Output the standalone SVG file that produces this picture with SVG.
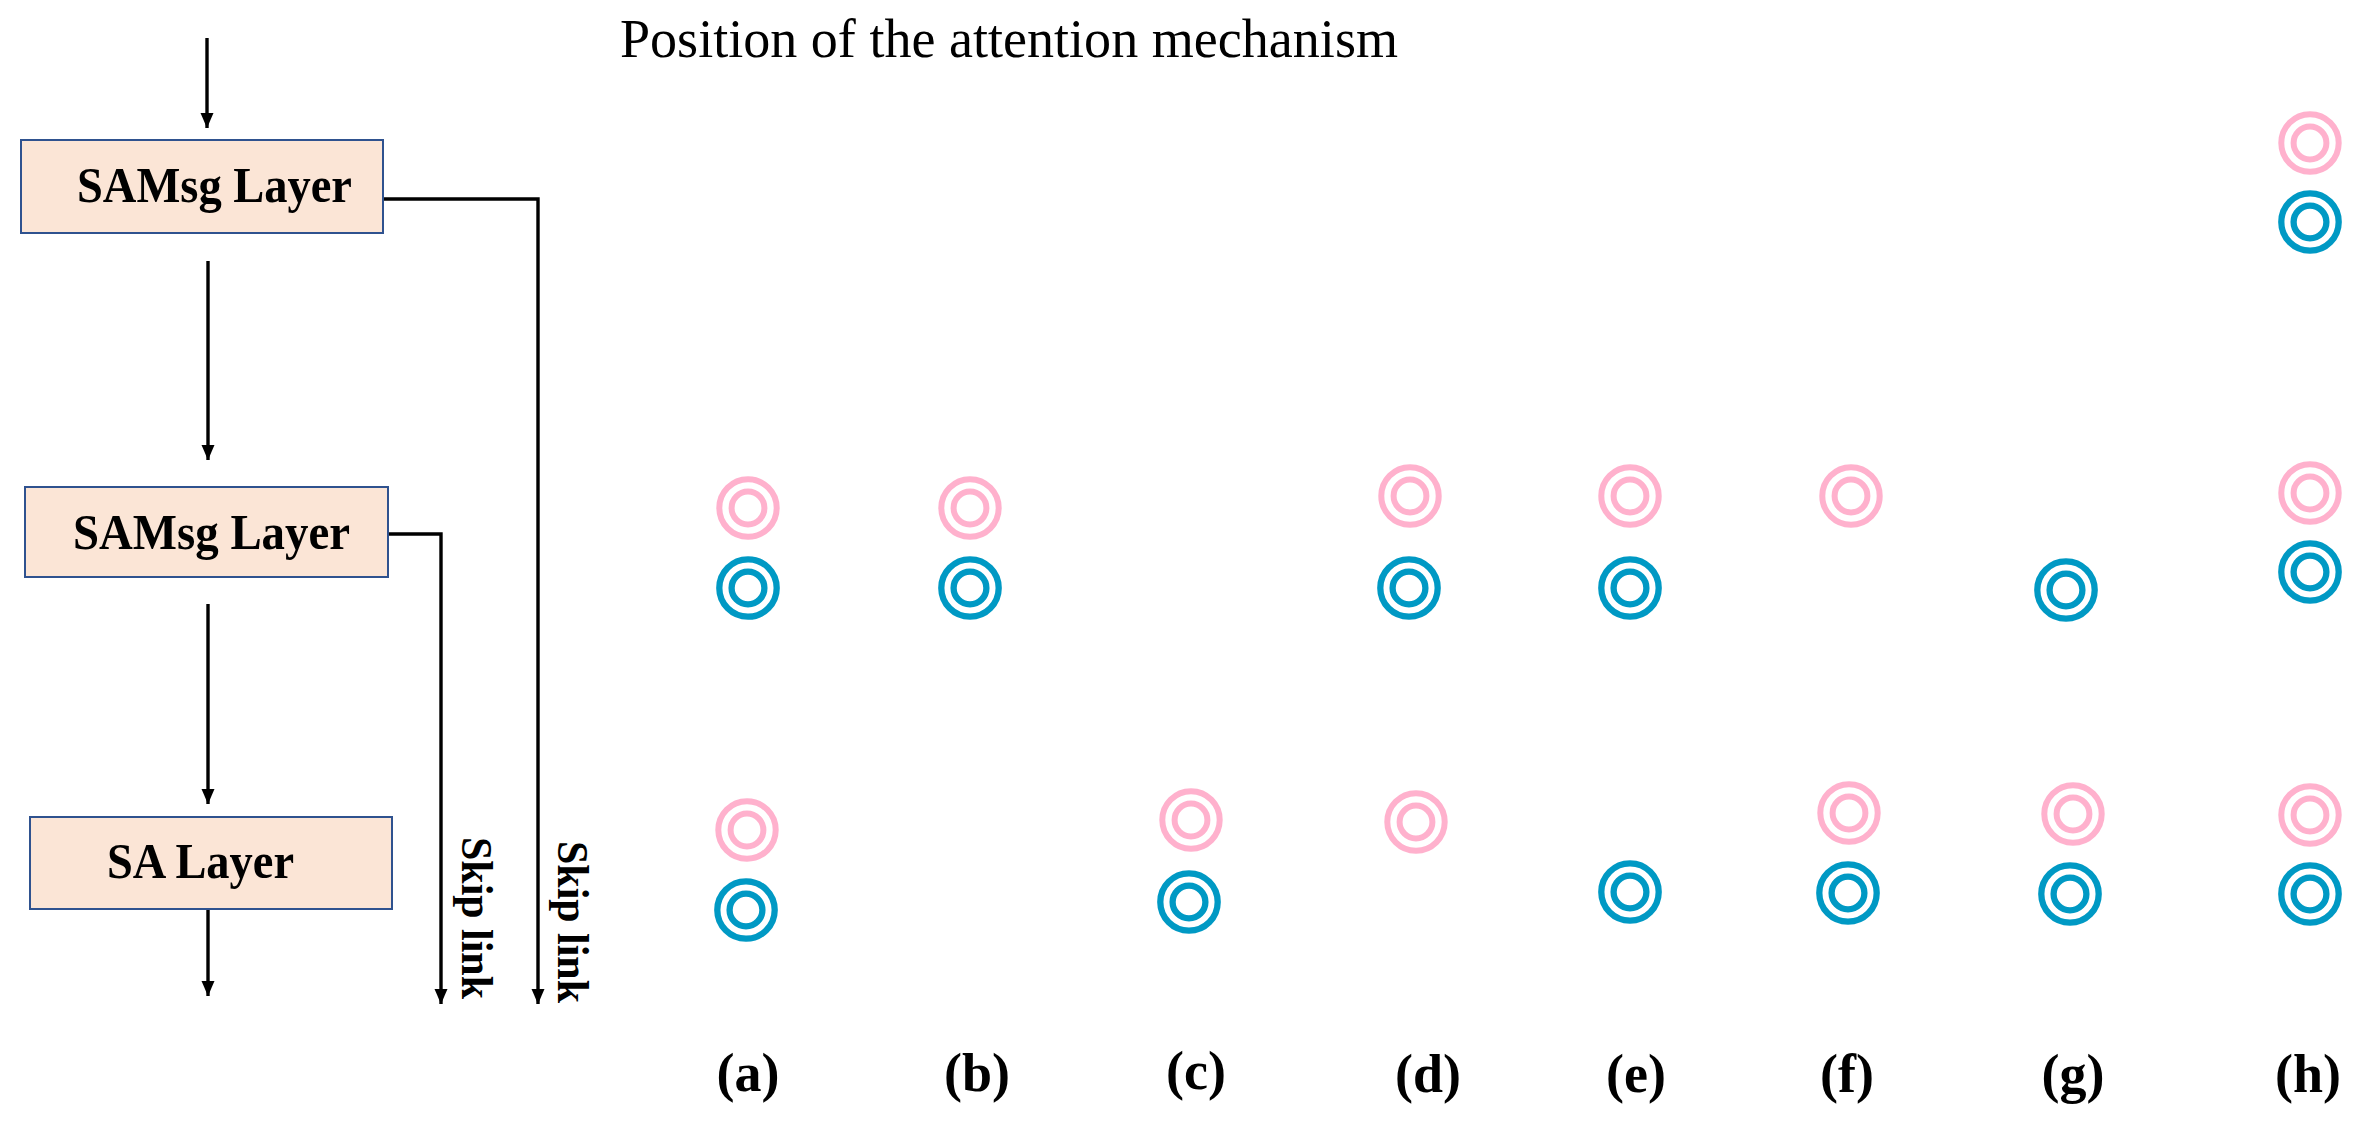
<svg xmlns="http://www.w3.org/2000/svg" xmlns:xlink="http://www.w3.org/1999/xlink" width="2359" height="1122" viewBox="0 0 2359 1122">
<style>
.box{fill:#FBE5D6;stroke:#2F528F;stroke-width:2}
.lbl{font-family:"Liberation Serif","Times New Roman",serif;font-weight:bold;fill:#000}
.boxt{font-size:50px;text-anchor:middle}
.skip{font-size:45px}
.sub{font-size:54px;text-anchor:middle}
.title{font-family:"Liberation Serif","Times New Roman",serif;font-size:54px;fill:#000}
.wire{fill:none;stroke:#000;stroke-width:3.4}
.pk{fill:none;stroke:#FFB1CD;stroke-width:6}
.bl{fill:none;stroke:#0099C4;stroke-width:6.3}
</style>
<defs>
<marker id="ah" markerUnits="userSpaceOnUse" markerWidth="16" markerHeight="16" viewBox="0 0 16 16" refX="15" refY="8" orient="auto">
<path d="M0,1.5 L15,8 L0,14.5 Z" fill="#000"/>
</marker>
<g id="pink"><circle r="28.7" class="pk"/><circle r="16.4" class="pk"/></g>
<g id="blue"><circle r="28.7" class="bl"/><circle r="16.4" class="bl"/></g>
</defs>
<rect width="2359" height="1122" fill="#fff"/>
<text class="title" x="620" y="57" textLength="778" lengthAdjust="spacingAndGlyphs">Position of the attention mechanism</text>
<g id="connectors">
<line class="wire" x1="207" y1="38" x2="207" y2="128" marker-end="url(#ah)"/>
<line class="wire" x1="208" y1="261" x2="208" y2="460" marker-end="url(#ah)"/>
<line class="wire" x1="208" y1="604" x2="208" y2="804" marker-end="url(#ah)"/>
<line class="wire" x1="208" y1="909" x2="208" y2="996" marker-end="url(#ah)"/>
<polyline class="wire" points="383,199 538,199 538,1004" marker-end="url(#ah)"/>
<polyline class="wire" points="388,534 441,534 441,1004" marker-end="url(#ah)"/>
</g>
<g id="samsg1">
<rect class="box" x="21" y="140" width="362" height="93"/>
<text class="lbl boxt" x="214.5" y="202" textLength="275" lengthAdjust="spacingAndGlyphs">SAMsg Layer</text>
</g>
<g id="samsg2">
<rect class="box" x="25" y="487" width="363" height="90"/>
<text class="lbl boxt" x="211.5" y="549" textLength="277" lengthAdjust="spacingAndGlyphs">SAMsg Layer</text>
</g>
<g id="sa">
<rect class="box" x="30" y="817" width="362" height="92"/>
<text class="lbl boxt" x="200.5" y="878" textLength="187" lengthAdjust="spacingAndGlyphs">SA Layer</text>
</g>
<g id="skiplabels">
<text class="lbl skip" transform="translate(462,837) rotate(90)" textLength="162" lengthAdjust="spacingAndGlyphs">Skip link</text>
<text class="lbl skip" transform="translate(558,841) rotate(90)" textLength="162" lengthAdjust="spacingAndGlyphs">Skip link</text>
</g>
<g id="col-a">
<use xlink:href="#pink" x="748" y="508"/>
<use xlink:href="#blue" x="748" y="588"/>
<use xlink:href="#pink" x="747" y="830"/>
<use xlink:href="#blue" x="746" y="910"/>
<text class="lbl sub" x="748" y="1091">(a)</text>
</g>
<g id="col-b">
<use xlink:href="#pink" x="970" y="508"/>
<use xlink:href="#blue" x="970" y="588"/>
<text class="lbl sub" x="977" y="1091">(b)</text>
</g>
<g id="col-c">
<use xlink:href="#pink" x="1191" y="820"/>
<use xlink:href="#blue" x="1189" y="902"/>
<text class="lbl sub" x="1196" y="1089">(c)</text>
</g>
<g id="col-d">
<use xlink:href="#pink" x="1410" y="496"/>
<use xlink:href="#blue" x="1409" y="588"/>
<use xlink:href="#pink" x="1416" y="822"/>
<text class="lbl sub" x="1428" y="1092">(d)</text>
</g>
<g id="col-e">
<use xlink:href="#pink" x="1630" y="496"/>
<use xlink:href="#blue" x="1630" y="588"/>
<use xlink:href="#blue" x="1630" y="892"/>
<text class="lbl sub" x="1636" y="1092">(e)</text>
</g>
<g id="col-f">
<use xlink:href="#pink" x="1851" y="496"/>
<use xlink:href="#pink" x="1849" y="813"/>
<use xlink:href="#blue" x="1848" y="893"/>
<text class="lbl sub" x="1847" y="1092">(f)</text>
</g>
<g id="col-g">
<use xlink:href="#blue" x="2066" y="590"/>
<use xlink:href="#pink" x="2073" y="814"/>
<use xlink:href="#blue" x="2070" y="894"/>
<text class="lbl sub" x="2073" y="1092">(g)</text>
</g>
<g id="col-h">
<use xlink:href="#pink" x="2310" y="143"/>
<use xlink:href="#blue" x="2310" y="222"/>
<use xlink:href="#pink" x="2310" y="493"/>
<use xlink:href="#blue" x="2310" y="572"/>
<use xlink:href="#pink" x="2310" y="815"/>
<use xlink:href="#blue" x="2310" y="894"/>
<text class="lbl sub" x="2308" y="1092">(h)</text>
</g>
</svg>
